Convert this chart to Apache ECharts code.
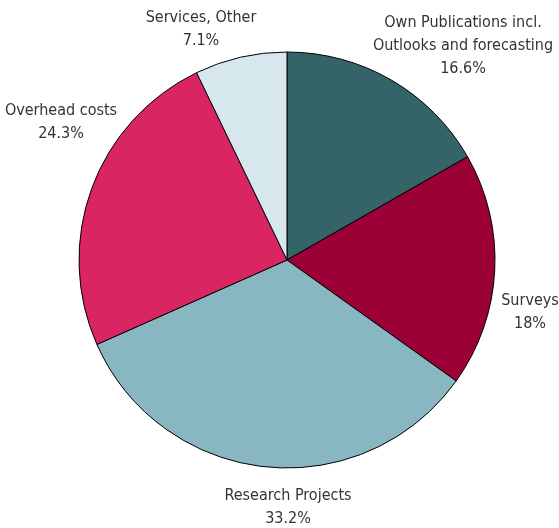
<!DOCTYPE html>
<html>
<head>
<meta charset="utf-8">
<script src="https://cdn.jsdelivr.net/npm/echarts@6/dist/echarts.min.js"></script>
<style>html,body{margin:0;padding:0;background:#fff}#c{width:559px;height:528px}</style>
</head>
<body>
<div id="c"></div>
<script>
const categories = ['Own Publications incl.\nOutlooks and forecasting', 'Surveys', 'Research Projects', 'Overhead costs', 'Services, Other'];
const values = [16.6, 18, 33.2, 24.3, 7.1];
const valueLabels = ['16.6%', '18%', '33.2%', '24.3%', '7.1%'];

// label block centres (layout styling)
const labelPos = [[463, 46], [530, 312], [288, 507], [61, 122], [201, 29]];
const colors = ['#346468', '#9b0036', '#88b7c2', '#d92662', '#d6e8ed'];

const chart = echarts.init(document.getElementById('c'), null, {renderer: 'canvas'});
chart.setOption({
  animation: false,
  series: [{
    type: 'pie',
    center: [287, 260],
    radius: 208,
    startAngle: 90,
    clockwise: true,
    avoidLabelOverlap: false,
    data: categories.map((n, i) => ({name: n, value: values[i], itemStyle: {color: colors[i]}})),
    itemStyle: {borderColor: '#000', borderWidth: 1},
    label: {
      position: 'outside',
      formatter: p => p.name + '\n' + valueLabels[p.dataIndex],
      fontFamily: "'Liberation Sans Narrow', 'DejaVu Sans Condensed', 'Open Sans', sans-serif",
      fontSize: 16,
      lineHeight: 23,
      color: '#333',
      align: 'center'
    },
    labelLine: {show: false},
    labelLayout: p => ({x: labelPos[p.dataIndex][0], y: labelPos[p.dataIndex][1], align: 'center', verticalAlign: 'middle'}),
    emphasis: {disabled: true}
  }]
});
</script>
</body>
</html>
